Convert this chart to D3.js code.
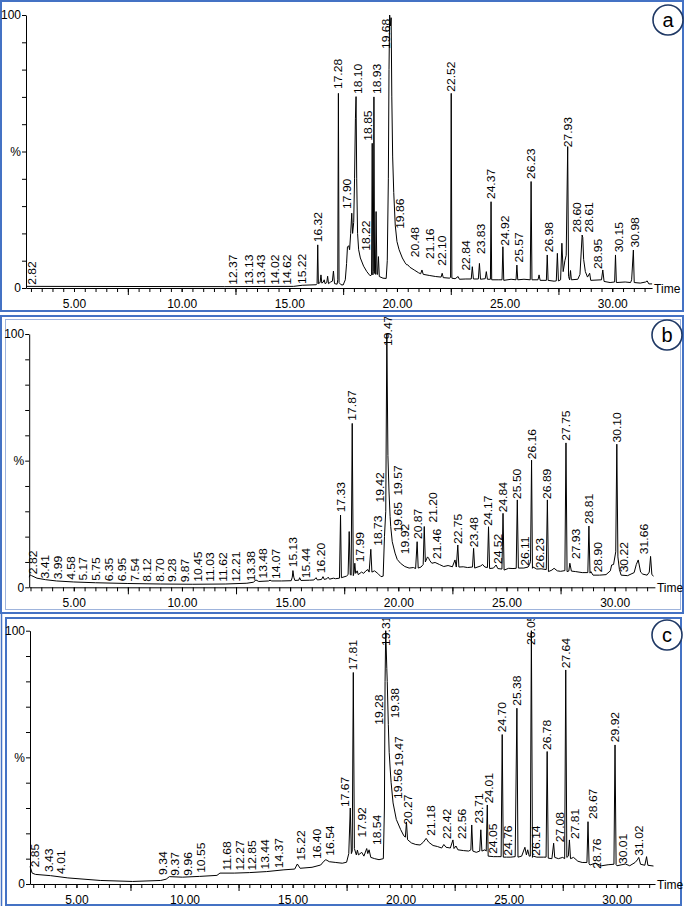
<!DOCTYPE html>
<html><head><meta charset="utf-8">
<script src="https://cdn.jsdelivr.net/npm/d3@7"></script>
<style>
body{margin:0;background:#fff}
svg{display:block}
text{font-family:"Liberation Sans",Arial,Helvetica,sans-serif;fill:#000}
</style>
</head><body>
<svg id="chart" width="685" height="908"></svg>
<script>
// ---------------- DATA ----------------
// Tick labels along the time axis
const timeTickLabels = [5, 10, 15, 20, 25, 30];
const longTicks = [7.5, 12.5, 17.5, 22.5, 27.5];

// Panel a: chromatogram trace [time (min), relative abundance %]
const traceA = [
[2.77,0.6],[12.0,0.5],[15.2,0.6],[15.6,1.0],[16.25,1.2],[16.29,1.6],[16.32,15.8],[16.35,1.6],[16.43,2.0],[16.47,4.8],[16.51,1.8],[16.58,2.2],[16.62,3.0],[16.66,1.6],[16.74,2.0],[16.78,4.3],[16.82,1.6],[16.92,2.2],[17.0,2.5],[17.05,6.2],[17.1,1.6],[17.22,1.4],[17.25,3],[17.28,71.3],[17.31,2],[17.4,1.2],[17.5,1.1],[17.6,3],[17.66,9],[17.7,15],[17.76,15.5],[17.8,14],[17.85,20],[17.9,27.4],[17.94,20],[17.99,24],[18.03,40],[18.07,62],[18.10,70.1],[18.13,40],[18.17,20],[18.22,14],[18.3,11],[18.45,8],[18.6,6],[18.75,4.5],[18.82,4.8],[18.85,53],[18.88,4.8],[18.9,6],[18.93,70],[18.96,5.5],[19.0,5],[19.03,28],[19.07,5],[19.1,5],[19.14,11.5],[19.18,4.2],[19.35,3.6],[19.5,3.5],[19.55,10],[19.6,40],[19.63,80],[19.66,100],[19.7,96],[19.73,99],[19.76,70],[19.8,48],[19.85,35],[19.92,23],[20.0,17],[20.1,14],[20.25,11],[20.38,9.2],[20.45,8.5],[20.5,8.5],[20.6,7.6],[20.8,6.6],[21.0,5.6],[21.1,5.2],[21.16,6.6],[21.22,5],[21.5,4.6],[21.8,4.2],[22.05,4],[22.1,5.4],[22.15,3.8],[22.45,3.6],[22.49,4],[22.52,71.3],[22.55,3.6],[22.7,3.4],[22.84,4.2],[22.9,3.2],[23.2,3.3],[23.45,3.3],[23.5,7.8],[23.55,3.3],[23.78,3.3],[23.83,9],[23.88,3.2],[24.1,3.4],[24.15,6],[24.2,3.2],[24.34,3.2],[24.37,31.6],[24.4,3],[24.7,3],[24.88,3],[24.92,15.1],[24.96,2.8],[25.3,3.2],[25.53,3],[25.57,8.4],[25.61,3],[25.9,3.2],[26.19,3],[26.23,39],[26.27,3],[26.55,3],[26.6,4.8],[26.65,2.8],[26.94,2.8],[26.98,12.1],[27.02,2.8],[27.3,2.5],[27.4,2.6],[27.45,12.7],[27.5,2.6],[27.6,3],[27.66,16.4],[27.72,6],[27.8,10],[27.86,12],[27.93,51.8],[27.97,4.2],[28.02,3],[28.06,6.4],[28.1,3],[28.4,3.2],[28.5,5],[28.6,19.4],[28.63,18.5],[28.67,10.5],[28.75,6],[28.85,4],[28.95,5.4],[29.0,2.8],[29.5,3],[29.56,6.6],[29.62,2.4],[29.9,2.0],[30.11,2.2],[30.15,12.1],[30.19,2.0],[30.6,2.2],[30.85,2.0],[30.9,3],[30.98,13.9],[31.02,2.0],[31.3,1.8],[31.55,2.2],[31.62,2.6],[31.7,1.5],[31.85,1.5]
];
const labelsA = ["2.82","12.37","13.13","13.43","14.02","14.62","15.22","16.32","17.28","17.90","18.10","18.22","18.85","18.93","19.68","19.86","20.48","21.16","22.10","22.52","22.84","23.83","24.37","24.92","25.57","26.23","26.98","27.93","28.60","28.61","28.95","30.15","30.98"];
const labelLevelsA = [0.8,0.8,0.8,0.8,0.8,0.8,1.1,16.4,72.5,28.6,70.7,13.3,53.6,70.7,87.2,21.3,10.9,10.3,7.8,71.5,6.0,12.1,32.2,15.1,9.0,39.6,12.7,51.2,20,20,6.6,12.7,14.5];

// Panel b
const traceB = [
[2.94,4.0],[2.98,4.9],[3.05,4.6],[3.3,3.6],[3.7,3.0],[4.2,2.5],[5.0,2.1],[6.0,1.8],[7.5,1.5],[9.0,1.3],[10.5,1.2],[12.0,1.3],[13.0,1.6],[13.3,2.0],[13.42,2.9],[13.55,2.3],[14.0,2.5],[14.07,2.8],[14.15,2.5],[14.6,2.5],[15.05,2.6],[15.1,4],[15.13,6.6],[15.17,4],[15.22,2.7],[15.4,2.8],[15.44,3.8],[15.5,2.7],[15.9,2.8],[16.1,2.9],[16.2,3.8],[16.26,2.9],[16.45,3.1],[16.52,4.2],[16.58,3.1],[16.7,3.4],[16.76,4.0],[16.82,3.2],[17.0,3.6],[17.1,3.4],[17.28,3.6],[17.33,28.5],[17.37,3.8],[17.6,4.4],[17.68,5],[17.73,22],[17.78,5],[17.82,4.8],[17.87,64.7],[17.92,4.6],[17.96,6],[17.99,9.5],[18.03,5.5],[18.1,6.5],[18.15,5],[18.3,6],[18.4,5.5],[18.5,6.5],[18.6,7],[18.65,6],[18.73,15],[18.78,6],[18.9,6.5],[19.05,5.5],[19.2,4.2],[19.3,4.4],[19.36,20],[19.42,30],[19.47,100],[19.52,52],[19.57,38],[19.62,28],[19.65,24],[19.72,18],[19.85,13.5],[19.95,11],[20.1,9.5],[20.3,8.2],[20.5,7.6],[20.7,7.8],[20.8,7.4],[20.87,18],[20.92,7.6],[21.05,8],[21.15,9],[21.2,24],[21.25,10],[21.35,12],[21.4,11.5],[21.46,10.5],[21.55,9.5],[21.7,9.8],[21.9,9],[22.1,8.2],[22.3,8.6],[22.5,8.1],[22.62,10.8],[22.68,8],[22.75,16.7],[22.8,8],[23.0,8.1],[23.2,7.8],[23.43,8],[23.48,15.4],[23.53,7.6],[23.8,8.4],[23.9,9],[24.0,8],[24.12,7.8],[24.17,23.9],[24.22,7.4],[24.4,7.6],[24.52,8.8],[24.6,7.4],[24.79,7.2],[24.84,29.2],[24.89,6.8],[25.1,7.5],[25.3,7.4],[25.45,7.5],[25.50,34.5],[25.55,7.6],[25.8,7.6],[26.0,8],[26.06,9],[26.11,10.1],[26.16,50.2],[26.2,7.5],[26.23,8],[26.4,7.2],[26.6,7.3],[26.84,7],[26.89,34.5],[26.94,6.2],[27.1,6.8],[27.2,7.5],[27.35,6.5],[27.5,6.3],[27.7,6.6],[27.75,57],[27.8,6.2],[27.88,6.4],[27.93,9.5],[28.0,6.4],[28.2,6.2],[28.5,5.8],[28.76,5.8],[28.81,24.2],[28.86,5.6],[28.90,6.2],[29.0,4.8],[29.3,4.8],[29.6,5],[29.8,6.5],[29.86,8.8],[29.95,9],[30.05,14],[30.10,56.5],[30.15,12],[30.22,7],[30.3,4.8],[30.6,4.6],[30.9,5.8],[31.0,9],[31.09,10.8],[31.2,6],[31.3,5.2],[31.5,4.8],[31.6,6],[31.66,12.2],[31.72,5],[31.8,4.4]
];
const labelsB = ["2.82","3.41","3.99","4.58","5.17","5.75","6.35","6.95","7.54","8.12","8.70","9.28","9.87","10.45","11.03","11.62","12.21","13.38","13.48","14.07","15.13","15.44","16.20","17.33","17.87","17.99","18.73","19.42","19.47","19.57","19.65","19.92","20.87","21.20","21.46","22.75","23.48","24.17","24.52","24.84","25.50","26.11","26.16","26.23","26.89","27.75","27.93","28.81","28.90","30.10","30.22","31.66"];
const labelLevelsB = [4.8,3.1,2.8,2.6,2.3,2.2,2.0,2.0,1.9,1.8,1.8,1.7,1.6,1.8,1.8,1.8,1.8,2.0,3.1,2.9,7.5,3.2,5.2,29.2,65.4,9.5,16,33.1,94.9,35.8,21.3,12.7,18.7,25.2,10.8,16.7,15.4,23.9,8.8,29.2,34.5,8.1,50.2,7.1,34.5,57.5,10.8,24.6,5.5,56.8,5.5,12.7];

// Panel c
const traceC = [
[2.85,6.9],[2.88,6.2],[2.95,4.3],[3.1,3.8],[3.8,3.3],[4.6,2.4],[6.1,1.4],[7.6,1.0],[8.9,1.4],[9.15,1.9],[9.3,2.9],[9.9,2.7],[10.7,3.0],[11.5,3.4],[11.64,4.3],[12.3,4.3],[13.0,4.5],[13.8,4.9],[14.6,5.6],[15.1,5.9],[15.22,7.9],[15.35,6.2],[15.9,6.6],[16.3,7.5],[16.45,9.0],[16.54,9.6],[16.7,8.8],[17.0,8.5],[17.3,8.2],[17.5,8.6],[17.6,12],[17.67,30],[17.72,12],[17.76,13],[17.81,83.5],[17.86,14],[17.95,11.5],[18.0,13.4],[18.05,11.5],[18.2,12.5],[18.3,11],[18.43,14],[18.48,12],[18.54,13.5],[18.62,10.5],[18.8,10],[19.0,9.6],[19.2,10],[19.25,30],[19.28,80],[19.31,100],[19.36,85],[19.38,80],[19.43,63],[19.47,52],[19.52,45],[19.56,40],[19.65,32],[19.8,25.5],[20.0,21.5],[20.15,19],[20.22,18.5],[20.27,24.5],[20.32,17.5],[20.5,16.2],[20.7,15.6],[20.9,15.4],[21.05,16.5],[21.18,18],[21.3,16.5],[21.5,15.2],[21.7,14.8],[21.9,14.2],[22.0,15.6],[22.1,14.5],[22.3,14.2],[22.42,17.4],[22.47,14],[22.56,15],[22.65,13.5],[22.9,13.2],[23.15,13],[23.25,13.5],[23.29,23.3],[23.34,13],[23.5,12.5],[23.66,13],[23.71,21.4],[23.76,13],[23.9,13.5],[23.96,13],[24.01,31.2],[24.05,11],[24.3,10.8],[24.5,10.8],[24.65,10.8],[24.70,59],[24.75,10.6],[24.9,10.6],[25.1,10.6],[25.3,10.8],[25.38,69.4],[25.43,10.6],[25.6,11],[25.75,14.5],[25.82,11.5],[25.88,13.5],[25.95,11],[26.0,11],[26.05,100],[26.1,10.5],[26.14,11],[26.3,10.6],[26.6,10.6],[26.73,10.6],[26.78,52.3],[26.83,10.2],[27.0,10],[27.08,16.1],[27.13,10.5],[27.3,10],[27.5,10.5],[27.59,10],[27.64,84.5],[27.69,10.5],[27.76,11],[27.81,17.4],[27.86,10],[28.0,10.5],[28.2,9],[28.4,8.5],[28.62,8.5],[28.67,24.6],[28.72,8],[28.76,7.5],[29.0,8.2],[29.3,7.2],[29.6,7.6],[29.87,7.8],[29.92,54.9],[29.97,7.6],[30.01,7.2],[30.4,7.9],[30.6,7.2],[30.85,8.5],[30.95,9.5],[31.02,10.5],[31.1,7.8],[31.3,7.4],[31.38,10.8],[31.44,7.4],[31.7,7.1]
];
const labelsC = ["2.85","3.43","4.01","9.34","9.37","9.96","10.55","11.68","12.27","12.85","13.44","14.37","15.22","16.40","16.54","17.67","17.81","17.92","18.54","19.28","19.31","19.38","19.47","19.56","20.27","21.18","22.42","22.56","23.71","24.01","24.05","24.70","24.76","25.38","26.05","26.14","26.78","27.08","27.64","27.81","28.67","28.76","29.92","30.01","31.02"];
const labelLevelsC = [6.2,4.3,3.6,3.2,2.9,2.9,4.0,4.9,4.9,4.9,5.3,5.8,8.9,9.5,10.8,30,84,18,15,62.5,93.6,65,46,33.2,23,18.7,17.4,17.4,23.5,31.5,11.5,59.5,10.8,70,94,10.8,52.5,16.1,84.8,17.4,25.3,5.6,55.6,7.5,10.8];

// ---------------- LAYOUT (label nudges in px, frames) ----------------
const labelDxA = {"2.82":4.5,"13.43":6,"14.02":7,"14.62":6,"15.22":8,"17.90":-4.5,"18.10":2,"18.22":7,"18.85":-4.5,"18.93":3,"19.68":-4.5,"19.86":6,"20.48":8,"21.16":8,"22.84":8,"23.83":2,"24.92":2,"25.57":2,"26.98":2,"28.60":-5,"28.61":7,"28.95":8,"30.15":4,"30.98":2};
const labelDxB = {"2.82":6,"3.41":6,"3.99":6,"4.58":6,"5.17":6,"5.75":6,"6.35":6,"6.95":6,"7.54":6,"8.12":6,"8.70":6,"9.28":6,"9.87":6,"10.45":6,"11.03":6,"11.62":6,"12.21":6,"13.38":-4,"13.48":6,"14.07":6,"15.44":6,"16.20":5,"17.99":5,"18.73":7,"19.42":-6,"19.47":1,"19.57":9,"19.65":7.5,"19.92":8,"20.87":1,"21.20":9,"21.46":7,"24.52":2,"26.11":-5,"26.23":7,"27.93":6,"28.90":7,"30.22":5,"31.66":-7};
const labelDxC = {"2.85":5,"3.43":6,"4.01":5.5,"9.34":-7,"9.37":4,"9.96":4.5,"10.55":5,"11.68":6,"12.27":6,"12.85":6,"13.44":6,"15.22":4,"16.40":-6,"16.54":4,"17.67":-5,"17.92":6,"18.54":7.5,"19.28":-6,"19.38":8,"19.47":9.5,"19.56":7,"20.27":2,"21.18":5,"22.42":-6,"22.56":6,"23.71":-1.5,"24.01":1.5,"24.05":5,"24.76":5,"26.14":3,"27.08":6,"27.81":6,"28.67":5,"28.76":7,"30.01":6};

const panels = [
  {key:"a", trace:traceA, labels:labelsA, levels:labelLevelsA, dx:labelDxA,
   domain:[2.77,31.85], xRange:[26,652.1], yRange:[288,15],
   frame:{x:1,y:1,w:682,h:310}, badge:[668,20]},
  {key:"b", trace:traceB, labels:labelsB, levels:labelLevelsB, dx:labelDxB,
   domain:[2.94,31.86], xRange:[29.2,654.9], yRange:[587.3,334],
   frame:{x:1,y:316,w:682,h:297}, inner:{x:5.5,y:319.5,w:675,h:290}, badge:[667,335]},
  {key:"c", trace:traceC, labels:labelsC, levels:labelLevelsC, dx:labelDxC,
   domain:[2.85,31.77], xRange:[30,655], yRange:[884,630.7],
   frame:{x:6,y:618,w:675,h:287}, badge:[667,635]}
];

const svg = d3.select("#chart");
const blue = "#4472c4";

panels.forEach(p => {
  const g = svg.append("g");
  const x = d3.scaleLinear().domain(p.domain).range(p.xRange);
  const y = d3.scaleLinear().domain([0,100]).range(p.yRange);

  // frame
  g.append("rect").attr("x",p.frame.x).attr("y",p.frame.y).attr("width",p.frame.w).attr("height",p.frame.h)
    .attr("fill","none").attr("stroke",blue).attr("stroke-width",2);
  if (p.inner) g.append("rect").attr("x",p.inner.x).attr("y",p.inner.y).attr("width",p.inner.w).attr("height",p.inner.h)
    .attr("fill","none").attr("stroke","#9fb4dc").attr("stroke-width",1);
  if (p.key==="c") g.append("line").attr("x1",1.5).attr("x2",1.5).attr("y1",614).attr("y2",906).attr("stroke",blue).attr("stroke-width",1.5);

  const clipId = "clip-"+p.key;
  svg.append("clipPath").attr("id",clipId).append("rect")
    .attr("x",p.frame.x+1).attr("y",p.frame.y+1).attr("width",p.frame.w-2).attr("height",p.frame.h-2);

  const y0 = p.yRange[0];
  // x axis: minor ticks
  const minor = d3.range(Math.ceil(p.domain[0]*2)/2, p.domain[1], 0.5);
  g.append("g").attr("transform",`translate(0,${y0})`)
    .call(d3.axisBottom(x).tickValues(minor).tickSize(4).tickSizeOuter(0).tickFormat(""))
    .call(a => a.selectAll("line,path").attr("stroke","#000"));
  g.append("g").attr("transform",`translate(0,${y0})`)
    .call(d3.axisBottom(x).tickValues(longTicks).tickSize(7).tickFormat(""))
    .call(a => a.select(".domain").remove())
    .call(a => a.selectAll("line").attr("stroke","#000"));
  g.append("g").attr("transform",`translate(0,${y0})`)
    .call(d3.axisBottom(x).tickValues(timeTickLabels).tickSize(4).tickPadding(7).tickFormat(d3.format(".2f")))
    .call(a => a.select(".domain").remove())
    .call(a => a.selectAll("line").attr("stroke","#000"))
    .call(a => a.selectAll("text").attr("font-size",12).attr("font-family","Liberation Sans, Arial, sans-serif").attr("fill","#000"));

  // Time label
  g.append("text").attr("x",p.xRange[1]+2).attr("y",y0+5).attr("font-size",12).text("Time");

  // y axis
  g.append("g").attr("transform",`translate(${p.xRange[0]},0)`)
    .call(d3.axisLeft(y).tickValues(d3.range(0,101,10)).tickSize(4).tickSizeOuter(0).tickPadding(1)
      .tickFormat(d => d===0?"0":d===100?"100":d===50?"%":""))
    .call(a => a.selectAll("line,path").attr("stroke","#000"))
    .call(a => a.selectAll("text").attr("font-size",12).attr("font-family","Liberation Sans, Arial, sans-serif").attr("fill","#000"));

  // trace
  g.append("path").datum(p.trace)
    .attr("fill","none").attr("stroke","#000").attr("stroke-width",1).attr("stroke-linejoin","round")
    .attr("d", d3.line().x(d => x(d[0])).y(d => y(d[1])));

  // peak labels
  const lg = g.append("g").attr("clip-path",`url(#${clipId})`);
  lg.selectAll("text").data(p.labels).join("text")
    .attr("transform",(d,i) => `translate(${x(+d)+(p.dx[d]||0)},${y(p.levels[i])-1}) rotate(-90) scale(1.1,1)`)
    .attr("dy","0.36em").attr("font-size",11).text(d => d);

  // badge
  g.append("circle").attr("cx",p.badge[0]).attr("cy",p.badge[1]).attr("r",15)
    .attr("fill","#fff").attr("stroke","#1f3864").attr("stroke-width",1.6);
  g.append("text").attr("x",p.badge[0]).attr("y",p.badge[1]+6.5).attr("text-anchor","middle")
    .attr("font-size",20).attr("font-family","Open Sans, Liberation Sans, sans-serif").attr("fill","#000").text(p.key);
});
</script>
</body></html>
